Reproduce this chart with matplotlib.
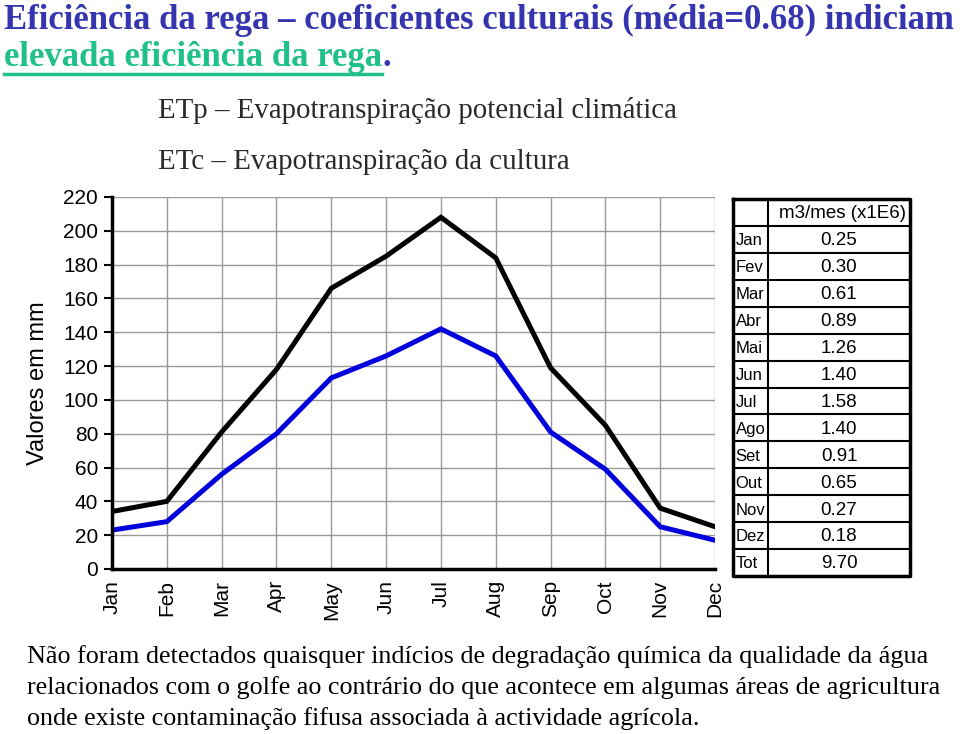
import matplotlib
matplotlib.use('Agg')
import matplotlib.pyplot as plt
import numpy as np

months = ['Jan', 'Feb', 'Mar', 'Apr', 'May', 'Jun', 'Jul', 'Aug', 'Sep', 'Oct', 'Nov', 'Dec']
etp = [34, 40, 81, 118, 166, 185, 208, 184, 119, 85, 36, 25]
etc = [23, 28, 56, 80, 113, 126, 142, 126, 81, 59, 25, 17]
yticks = [0, 20, 40, 60, 80, 100, 120, 140, 160, 180, 200, 220]

table_months = ['Jan', 'Fev', 'Mar', 'Abr', 'Mai', 'Jun', 'Jul', 'Ago', 'Set', 'Out', 'Nov', 'Dez', 'Tot']
table_values = ['0.25', '0.30', '0.61', '0.89', '1.26', '1.40', '1.58', '1.40', '0.91', '0.65', '0.27', '0.18', '9.70']
table_header = 'm3/mes (x1E6)'

W, H = 960, 734
fig = plt.figure(figsize=(W / 100, H / 100), dpi=100)

def fx(px):
    return px / W

def fy(py):
    return 1 - py / H

serif = 'Liberation Serif'
sans = 'Liberation Sans'

# title
blue_t = '#3535b0'
green_t = '#20c08a'
fig.text(fx(4), fy(20), 'Eficiência da rega – coeficientes culturais (média=0.68) indiciam',
         family=serif, fontsize=25, weight='bold', color=blue_t, va='center')
t2 = fig.text(fx(4), fy(57), 'elevada eficiência da rega', family=serif, fontsize=25,
              weight='bold', color=green_t, va='center')
fig.canvas.draw()
bb = t2.get_window_extent()
fig.text(bb.x1 / W, fy(57), '.', family=serif, fontsize=25, weight='bold', color=blue_t, va='center')
fig.add_artist(plt.Line2D([bb.x0 / W, bb.x1 / W], [fy(74), fy(74)], color=green_t, lw=2.5))

# legend-like labels
fig.text(fx(158), fy(110), 'ETp – Evapotranspiração potencial climática', family=serif,
         fontsize=20.8, color='#2a2a2a', va='center')
fig.text(fx(158), fy(162), 'ETc – Evapotranspiração da cultura', family=serif,
         fontsize=20.8, color='#2a2a2a', va='center')

# main chart
ax = fig.add_axes([fx(112), fy(569), fx(715) - fx(112), fy(197) - fy(569)])
x = np.arange(len(months))
ax.plot(x, etp, color='black', lw=3.6, solid_joinstyle='miter')
ax.plot(x, etc, color='#0000dd', lw=3.6, solid_joinstyle='miter')
ax.set_xlim(0, len(months) - 1)
ax.set_ylim(0, 220)
ax.set_yticks(yticks)
ax.set_xticks(x)
ax.set_xticklabels(months, rotation=90, family=sans, fontsize=15)
ax.tick_params(axis='x', length=0, pad=8)
ax.tick_params(axis='y', length=6, width=1.5, direction='out', labelsize=15, pad=4)
for lab in ax.get_yticklabels():
    lab.set_family(sans)
ax.grid(True, color='#999999', lw=1)
ax.set_axisbelow(True)
for s in ['top', 'right']:
    ax.spines[s].set_visible(False)
for s in ['left', 'bottom']:
    ax.spines[s].set_linewidth(2.5)
ax.set_ylabel('Valores em mm', family=sans, fontsize=17)
ax.yaxis.set_label_coords(-0.105, 0.5)

# table
tx0, tx1, ty0, ty1 = 733, 910, 199, 576
tax = fig.add_axes([fx(tx0), fy(ty1), fx(tx1) - fx(tx0), fy(ty0) - fy(ty1)])
nrows = len(table_months) + 1
tax.set_xlim(0, 1)
tax.set_ylim(nrows, 0)
tax.axis('off')
c1 = (768 - tx0) / (tx1 - tx0)
for i in range(1, nrows):
    tax.plot([0, 1], [i, i], color='black', lw=1.5)
tax.plot([c1, c1], [0, nrows], color='black', lw=1.5)
tax.plot([0, 1, 1, 0, 0], [0, 0, nrows, nrows, 0], color='black', lw=2.5, clip_on=False)
tax.text((c1 + 1) / 2 + 0.02, 0.55, table_header, ha='center', va='center', family=sans, fontsize=13.5)
for i, (m, v) in enumerate(zip(table_months, table_values)):
    tax.text(0.015, i + 1.55, m, ha='left', va='center', family=sans, fontsize=12)
    tax.text((c1 + 1) / 2, i + 1.55, v, ha='center', va='center', family=sans, fontsize=13.5)

# bottom text
body = ['Não foram detectados quaisquer indícios de degradação química da qualidade da água',
        'relacionados com o golfe ao contrário do que acontece em algumas áreas de agricultura',
        'onde existe contaminação fifusa associada à actividade agrícola.']
for i, line in enumerate(body):
    fig.text(fx(27), fy(657 + i * 31), line, family=serif, fontsize=18.8, color='black', va='center')

fig.savefig('out.png', dpi=100)
